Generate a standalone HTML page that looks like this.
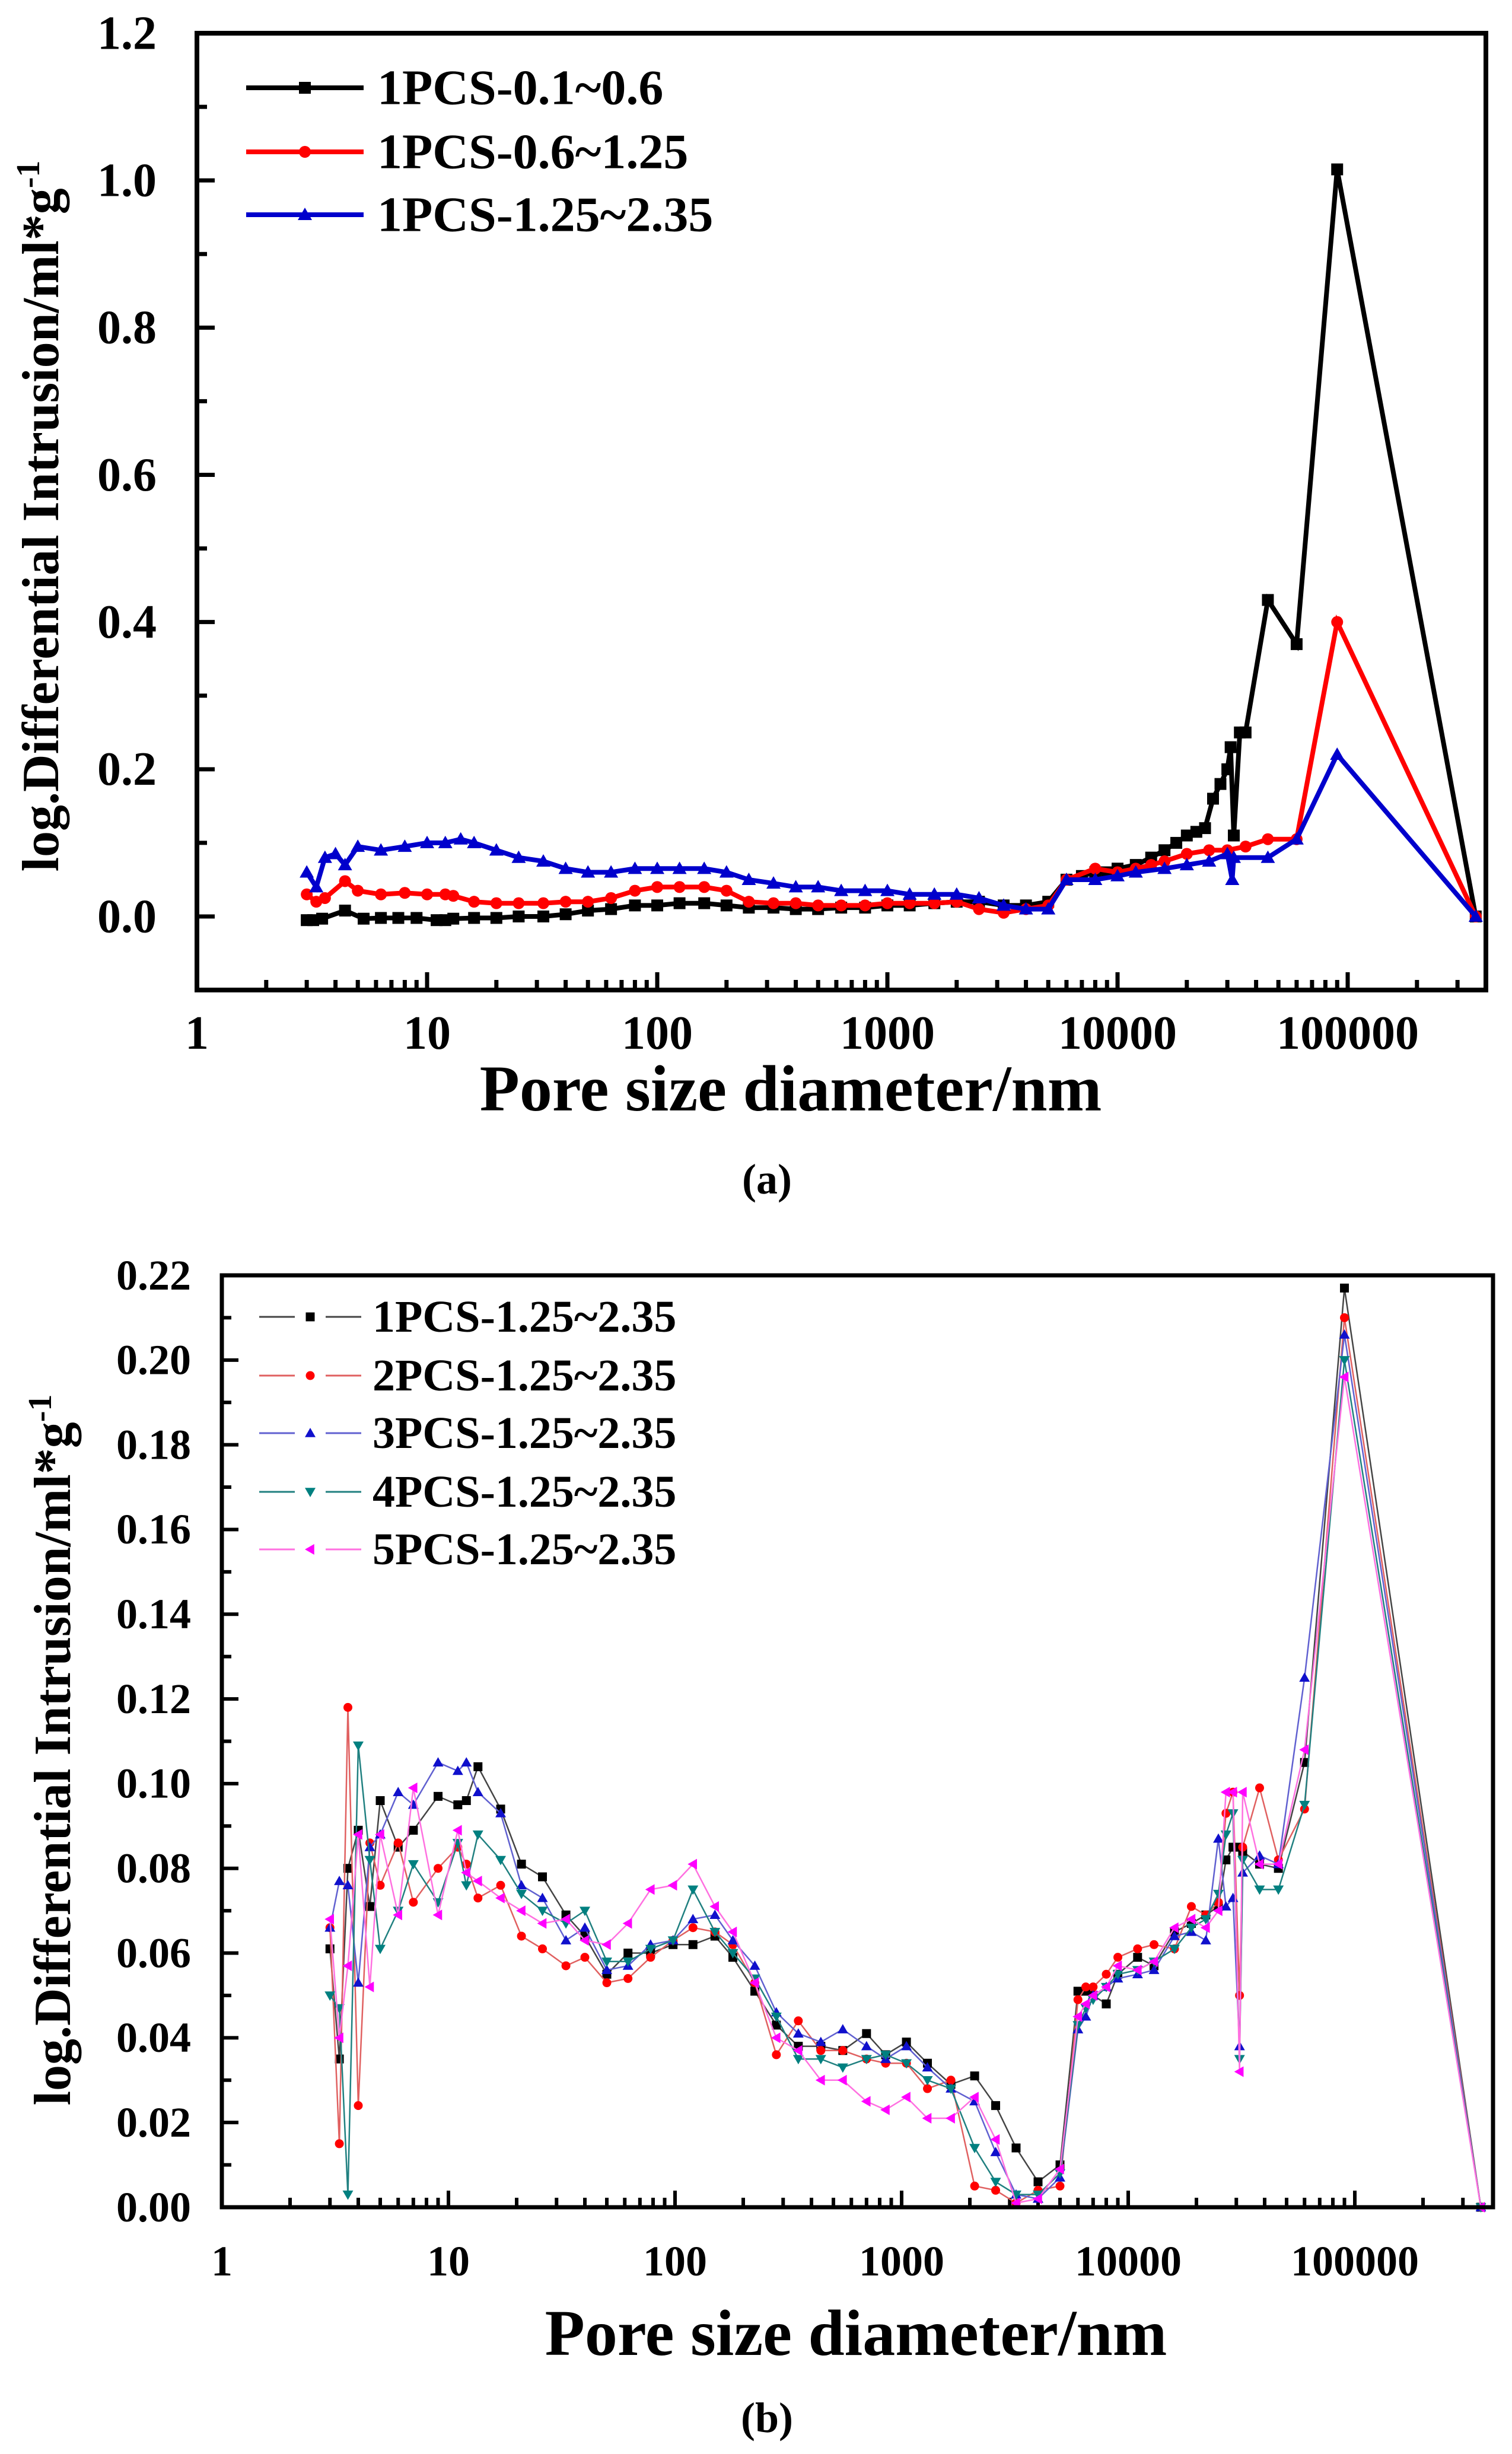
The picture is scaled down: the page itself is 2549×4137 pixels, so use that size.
<!DOCTYPE html>
<html><head><meta charset="utf-8"><style>
html,body{margin:0;padding:0;background:#fff;}
svg{display:block;}
text{font-family:"Liberation Serif",serif;font-weight:bold;fill:#000;}
</style></head>
<body>
<svg id="fig" width="2549" height="4137" viewBox="0 0 2549 4137" xmlns="http://www.w3.org/2000/svg"></svg>
<script>
// ---------- Chart (a) data ----------
const aBlackX = [3.0,3.2,3.5,4.4,5.3,6.3,7.5,9,11,12,13,16,20,25,32,40,50,63,80,100,125,160,200,250,320,400,500,630,800,1000,1250,1600,2000,2500,3200,4000,5000,6000,7000,8000,9000,10000,12000,14000,16000,18000,20000,22000,24000,26000,28000,30000,31000,32000,34000,36000,45000,60000,90000,360000];
const aBlackY = [-0.005,-0.005,-0.003,0.008,-0.003,-0.002,-0.002,-0.002,-0.005,-0.005,-0.003,-0.002,-0.002,0,0,0.003,0.008,0.01,0.015,0.015,0.018,0.018,0.015,0.012,0.012,0.01,0.01,0.012,0.012,0.015,0.015,0.018,0.02,0.02,0.015,0.015,0.02,0.05,0.055,0.06,0.06,0.065,0.07,0.08,0.09,0.1,0.11,0.115,0.12,0.16,0.18,0.2,0.23,0.11,0.25,0.25,0.43,0.37,1.015,0];
const aRedX = [3.0,3.3,3.6,4.4,5,6.3,8,10,12,13,16,20,25,32,40,50,63,80,100,125,160,200,250,320,400,500,630,800,1000,1250,1600,2000,2500,3200,4000,5000,6000,8000,10000,12000,14000,16000,20000,25000,30000,36000,45000,60000,90000,360000];
const aRedY = [0.03,0.02,0.025,0.048,0.035,0.03,0.032,0.03,0.03,0.028,0.02,0.018,0.018,0.018,0.02,0.02,0.025,0.035,0.04,0.04,0.04,0.035,0.02,0.018,0.018,0.015,0.015,0.015,0.018,0.018,0.018,0.02,0.01,0.005,0.01,0.015,0.05,0.065,0.06,0.065,0.07,0.075,0.085,0.09,0.09,0.095,0.105,0.105,0.4,0];
const aBlueX = [3.0,3.3,3.6,4,4.4,5,6.3,8,10,12,14,16,20,25,32,40,50,63,80,100,125,160,200,250,320,400,500,630,800,1000,1250,1600,2000,2500,3200,4000,5000,6000,8000,10000,12000,16000,20000,25000,30000,31500,32000,45000,60000,90000,360000];
const aBlueY = [0.06,0.04,0.08,0.085,0.07,0.095,0.09,0.095,0.1,0.1,0.105,0.1,0.09,0.08,0.075,0.065,0.06,0.06,0.065,0.065,0.065,0.065,0.06,0.05,0.045,0.04,0.04,0.035,0.035,0.035,0.03,0.03,0.03,0.025,0.015,0.01,0.01,0.05,0.05,0.055,0.06,0.065,0.07,0.075,0.085,0.05,0.08,0.08,0.105,0.22,0];
const aYTicks = ["0.0","0.2","0.4","0.6","0.8","1.0","1.2"];
const aYTickVals = [0,0.2,0.4,0.6,0.8,1.0,1.2];
const aXTicks = ["1","10","100","1000","10000","100000"];
const aXTickVals = [1,10,100,1000,10000,100000];
const aLegend = ["1PCS-0.1~0.6","1PCS-0.6~1.25","1PCS-1.25~2.35"];

// ---------- Chart (b) data ----------
const bX = [3.0,3.3,3.6,4.0,4.5,5.0,6.0,7.0,9.0,11,12,13.5,17,21,26,33,40,50,62,78,98,120,150,180,225,280,350,440,550,700,850,1050,1300,1650,2100,2600,3200,4000,5000,6000,6500,7000,8000,9000,11000,13000,16000,19000,22000,25000,27000,29000,31000,32000,38000,46000,60000,90000,360000];
const bS1 = [0.061,0.035,0.080,0.089,0.071,0.096,0.085,0.089,0.097,0.095,0.096,0.104,0.094,0.081,0.078,0.069,0.064,0.055,0.060,0.060,0.062,0.062,0.064,0.059,0.051,0.043,0.038,0.038,0.037,0.041,0.036,0.039,0.034,0.029,0.031,0.024,0.014,0.006,0.010,0.051,0.051,0.050,0.048,0.055,0.059,0.057,0.065,0.067,0.069,0.071,0.082,0.085,0.085,0.084,0.081,0.080,0.105,0.217,0];
const bS2 = [0.066,0.015,0.118,0.024,0.086,0.076,0.086,0.072,0.080,0.085,0.081,0.073,0.076,0.064,0.061,0.057,0.059,0.053,0.054,0.059,0.063,0.066,0.065,0.062,0.053,0.036,0.044,0.037,0.037,0.035,0.034,0.034,0.028,0.030,0.005,0.004,0.001,0.004,0.005,0.049,0.052,0.052,0.055,0.059,0.061,0.062,0.061,0.071,0.069,0.072,0.093,0.098,0.050,0.085,0.099,0.082,0.094,0.210,0];
const bS3 = [0.066,0.077,0.076,0.053,0.085,0.088,0.098,0.095,0.105,0.103,0.105,0.098,0.093,0.076,0.073,0.063,0.066,0.056,0.057,0.062,0.063,0.068,0.069,0.063,0.057,0.046,0.041,0.039,0.042,0.038,0.035,0.038,0.033,0.028,0.025,0.013,0.003,0.002,0.007,0.042,0.045,0.050,0.052,0.054,0.055,0.056,0.064,0.065,0.063,0.087,0.071,0.073,0.038,0.079,0.083,0.081,0.125,0.206,0];
const bS4 = [0.050,0.047,0.003,0.109,0.082,0.061,0.070,0.081,0.072,0.086,0.076,0.088,0.082,0.074,0.070,0.067,0.070,0.058,0.058,0.061,0.063,0.075,0.065,0.060,0.054,0.045,0.035,0.035,0.033,0.035,0.036,0.034,0.030,0.028,0.014,0.006,0.003,0.003,0.008,0.043,0.047,0.049,0.052,0.055,0.056,0.058,0.061,0.066,0.068,0.074,0.088,0.093,0.035,0.082,0.075,0.075,0.095,0.200,0];
const bS5 = [0.068,0.040,0.057,0.088,0.052,0.088,0.069,0.099,0.069,0.089,0.079,0.077,0.073,0.070,0.067,0.068,0.063,0.062,0.067,0.075,0.076,0.081,0.071,0.065,0.053,0.040,0.037,0.030,0.030,0.025,0.023,0.026,0.021,0.021,0.026,0.016,0.001,0.002,0.009,0.045,0.048,0.050,0.052,0.057,0.056,0.058,0.066,0.068,0.066,0.070,0.098,0.098,0.032,0.098,0.081,0.081,0.108,0.196,0];
const bYTicks = ["0.00","0.02","0.04","0.06","0.08","0.10","0.12","0.14","0.16","0.18","0.20","0.22"];
const bYTickVals = [0,0.02,0.04,0.06,0.08,0.10,0.12,0.14,0.16,0.18,0.20,0.22];
const bXTicks = ["1","10","100","1000","10000","100000"];
const bXTickVals = [1,10,100,1000,10000,100000];
const bLegend = ["1PCS-1.25~2.35","2PCS-1.25~2.35","3PCS-1.25~2.35","4PCS-1.25~2.35","5PCS-1.25~2.35"];

const NS="http://www.w3.org/2000/svg";
const svg=document.getElementById('fig');
function mk(tag,attrs,parent){const e=document.createElementNS(NS,tag);for(const k in attrs)e.setAttribute(k,attrs[k]);(parent||svg).appendChild(e);return e;}

function marker(g,shape,x,y,s,color){
  let e;
  if(shape==='sq'){e=mk('rect',{x:x-s/2,y:y-s/2,width:s,height:s,fill:color},g);}
  else if(shape==='ci'){e=mk('circle',{cx:x,cy:y,r:s/2,fill:color},g);}
  else if(shape==='up'){e=mk('polygon',{points:`${x},${y-s*0.6} ${x-s*0.6},${y+s*0.45} ${x+s*0.6},${y+s*0.45}`,fill:color},g);}
  else if(shape==='dn'){e=mk('polygon',{points:`${x},${y+s*0.6} ${x-s*0.6},${y-s*0.45} ${x+s*0.6},${y-s*0.45}`,fill:color},g);}
  else {e=mk('polygon',{points:`${x-s*0.6},${y} ${x+s*0.45},${y-s*0.6} ${x+s*0.45},${y+s*0.6}`,fill:color},g);}
  
  
}

function chart(cfg){
  const g=mk('g',{});
  
  
  const X=v=>cfg.L+(Math.log10(v))*cfg.dec;
  const Y=v=>cfg.y0+(v-0)*(cfg.y1-cfg.y0)/cfg.ymax;
  const tg=mk('g',{stroke:'#000','stroke-width':cfg.tw},g);
  
  
  for(let d=0;d<6;d++){for(let m=1;m<=9;m++){const v=Math.pow(10,d)*m;const px=X(v);if(px>cfg.R-4)continue;const len=m===1?cfg.major:cfg.minor;mk('line',{x1:px,x2:px,y1:cfg.B,y2:cfg.B-len},tg);}}
  cfg.yv.forEach((v,i)=>{mk('line',{x1:cfg.L,x2:cfg.L+cfg.major,y1:Y(v),y2:Y(v)},tg);
    if(i<cfg.yv.length-1){const mv=(v+cfg.yv[i+1])/2;mk('line',{x1:cfg.L,x2:cfg.L+cfg.minor,y1:Y(mv),y2:Y(mv)},tg);}});
  cfg.yv.forEach((v,i)=>{const t=mk('text',{x:cfg.ylx,y:Y(v)+cfg.fs*0.33,'text-anchor':'end','font-size':cfg.fs},g);t.textContent=cfg.yl[i];
    });
  cfg.xv.forEach((v,i)=>{const t=mk('text',{x:X(v),y:cfg.xly,'text-anchor':'middle','font-size':cfg.fs},g);t.textContent=cfg.xl[i];
    });
  cfg.series.forEach(s=>{
    const sg=mk('g',{},g);
    
    
    const pts=s.x.map((v,i)=>`${X(v).toFixed(1)},${Y(s.y[i]).toFixed(1)}`).join(' ');
    mk('polyline',{points:pts,fill:'none',stroke:s.lc,'stroke-width':cfg.lw,'stroke-linejoin':'miter'},sg);
    s.x.forEach((v,i)=>marker(sg,s.shape,X(v),Y(s.y[i]),cfg.ms,s.c));
  });
  const f=mk('rect',{x:cfg.L,y:cfg.T,width:cfg.R-cfg.L,height:cfg.B-cfg.T,fill:'none',stroke:'#000','stroke-width':cfg.fw},g);
  
  cfg.legend.forEach((txt,i)=>{
    const s=cfg.series[i];const ly=cfg.legY[i];
    const lg=mk('g',{},g);
    
    
    if(cfg.dashLeg){
      mk('line',{x1:cfg.legX1,x2:cfg.legX1+60,y1:ly,y2:ly,stroke:s.lc,'stroke-width':3},lg);
      mk('line',{x1:cfg.legX2-60,x2:cfg.legX2,y1:ly,y2:ly,stroke:s.lc,'stroke-width':3},lg);
    } else mk('line',{x1:cfg.legX1,x2:cfg.legX2,y1:ly,y2:ly,stroke:s.lc,'stroke-width':cfg.lw},lg);
    marker(lg,s.shape,(cfg.legX1+cfg.legX2)/2,ly,cfg.ms,s.c);
    const t=mk('text',{x:cfg.legTX,y:ly+cfg.lfs*0.33,'font-size':cfg.lfs},lg);t.textContent=txt;
  });
  return g;
}

chart({name:'chart-a',L:332,R:2505,T:56,B:1669,dec:388,y0:1545,y1:56,ymax:1.2,ymin:-0.1,
  tw:7,major:30,minor:17,fw:8,lw:8,ms:20,fs:80,ylx:264,xly:1768,
  yv:aYTickVals,yl:aYTicks,xv:aXTickVals,xl:aXTicks,
  series:[{name:'series-0.1-0.6',x:aBlackX,y:aBlackY,c:'#000',lc:'#000',shape:'sq'},
          {name:'series-0.6-1.25',x:aRedX,y:aRedY,c:'#ff0000',lc:'#ff0000',shape:'ci'},
          {name:'series-1.25-2.35',x:aBlueX,y:aBlueY,c:'#0000cc',lc:'#0000cc',shape:'up'}],
  legend:aLegend,legY:[148,256,362],legX1:415,legX2:613,legTX:636,lfs:84});

chart({name:'chart-b',L:374,R:2517,T:2150,B:3721,dec:382,y0:3721,y1:2150,ymax:0.22,ymin:0,
  tw:6,major:28,minor:16,fw:7,lw:2.5,ms:15,fs:72,ylx:322,xly:3836,
  yv:bYTickVals,yl:bYTicks,xv:bXTickVals,xl:bXTicks,
  series:[{name:'series-1pcs',x:bX,y:bS1,c:'#000',lc:'#444',shape:'sq'},
          {name:'series-2pcs',x:bX,y:bS2,c:'#ff0000',lc:'#e06060',shape:'ci'},
          {name:'series-3pcs',x:bX,y:bS3,c:'#1010cc',lc:'#6060d0',shape:'up'},
          {name:'series-4pcs',x:bX,y:bS4,c:'#008080',lc:'#208080',shape:'dn'},
          {name:'series-5pcs',x:bX,y:bS5,c:'#ff00ff',lc:'#ff70e0',shape:'lt'}],
  legend:bLegend,legY:[2220,2319,2416,2515,2612],legX1:437,legX2:609,legTX:628,lfs:76,dashLeg:true});

function txt(name,x,y,s,fs,rot,anchor){const t=mk('text',{x:x,y:y,'font-size':fs,'text-anchor':anchor||'middle'});t.textContent=s;
  
  if(rot)t.setAttribute('transform',`rotate(-90 ${x} ${y})`);return t;}
txt('x-axis-title-a',1333,1872,'Pore size diameter/nm',110);
const ya=txt('y-axis-title-a',98,870,'log.Differential Intrusion/ml*g',88,true);
const sa=mk('tspan',{dy:-32,'font-size':56},ya);sa.textContent='-1';
txt('panel-label-a',1293,2012,'(a)',72);
txt('x-axis-title-b',1443,3970,'Pore size diameter/nm',110);
const yb=txt('y-axis-title-b',118,2950,'log.Differential Intrusion/ml*g',88,true);
const sb=mk('tspan',{dy:-32,'font-size':56},yb);sb.textContent='-1';
txt('panel-label-b',1293,4100,'(b)',72);
</script>
</body></html>
